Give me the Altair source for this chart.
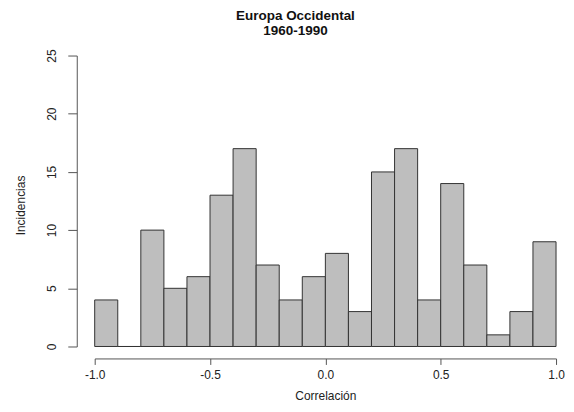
import altair as alt
import pandas as pd

bin_start = [-1.0, -0.9, -0.8, -0.7, -0.6, -0.5, -0.4, -0.3, -0.2, -0.1,
             0.0, 0.1, 0.2, 0.3, 0.4, 0.5, 0.6, 0.7, 0.8, 0.9]
counts = [4, 0, 10, 5, 6, 13, 17, 7, 4, 6, 8, 3, 15, 17, 4, 14, 7, 1, 3, 9]
x_ticks = [-1.0, -0.5, 0.0, 0.5, 1.0]
y_ticks = [0, 5, 10, 15, 20, 25]

df = pd.DataFrame({
    "start": bin_start,
    "end": [round(s + 0.1, 1) for s in bin_start],
    "count": counts,
})

FONT = "Liberation Sans"

bars = alt.Chart(df).mark_bar(
    fill="#BEBEBE", stroke="#333333", strokeWidth=1, binSpacing=0
).encode(
    x=alt.X("start:Q",
            scale=alt.Scale(domain=[-1, 1], nice=False, zero=False),
            axis=alt.Axis(
                values=x_ticks,
                labelExpr="datum.value < 0 ? '-' + format(abs(datum.value), '.1f') : format(datum.value, '.1f')",
                title="Correlación",
                titleFont=FONT, titleFontSize=12, titleFontWeight="normal",
                titleColor="#222222",
                titleY=41, titleBaseline="alphabetic",
                labelFont=FONT, labelFontSize=12, labelColor="#222222",
                labelPadding=5, labelFlush=False,
                offset=12, tickSize=6, tickColor="#555555",
                domainColor="#555555", grid=False,
            )),
    x2="end:Q",
    y=alt.Y("count:Q",
            scale=alt.Scale(domain=[0, 25], nice=False),
            axis=alt.Axis(
                values=y_ticks,
                title="Incidencias",
                titleFont=FONT, titleFontSize=12, titleFontWeight="normal",
                titleColor="#222222",
                titleX=-56, titleY=150, titleAngle=270,
                titleAlign="center", titleBaseline="middle",
                labelFont=FONT, labelFontSize=12, labelColor="#222222",
                labelAngle=270, labelAlign="center", labelBaseline="bottom",
                labelPadding=9, labelFlush=False,
                offset=18, tickSize=9, tickColor="#555555",
                domainColor="#555555", grid=False,
            )),
    y2=alt.datum(0),
)

chart = bars.properties(
    width=463,
    height=292,
    background="white",
    title=alt.TitleParams(
        text=["Europa Occidental", "1960-1990"],
        font=FONT, fontSize=13.5, fontWeight="bold", color="#111111",
        anchor="middle", frame="group", dx=-30, offset=0,
        baseline="alphabetic", lineHeight=15,
    ),
    autosize=alt.AutoSizeParams(type="none"),
    padding={"left": 87, "top": 47, "right": 10, "bottom": 57},
).configure_view(strokeWidth=0, stroke="transparent")

chart.save("out.html", embed_options={"renderer": "svg", "actions": False})
